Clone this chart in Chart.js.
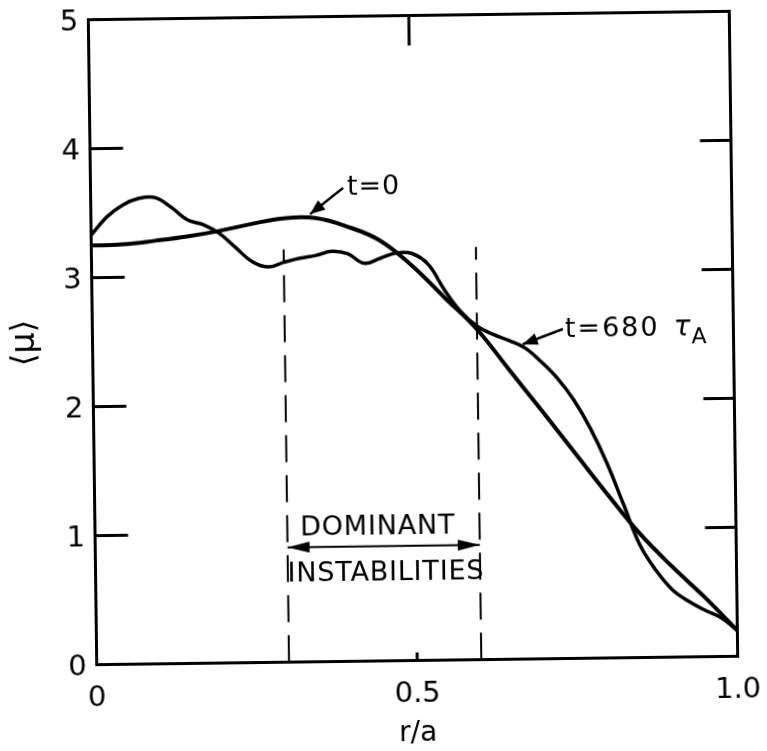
<!DOCTYPE html>
<html>
<head>
<meta charset="utf-8">
<script src="https://cdn.jsdelivr.net/npm/chart.js@4/dist/chart.umd.min.js"></script>
<style>
    html, body { margin: 0; padding: 0; background: #fff; }
    #wrap { width: 767px; height: 751px; overflow: hidden; }
    /* the whole plate sits a little askew on the page */
    #plot { transform: rotate(-0.75deg); transform-origin: 413px 338px; }
</style>
</head>
<body>
<div id="wrap"><canvas id="plot" width="767" height="751"></canvas></div>
<script>
// mean mu profile across the minor radius
const rInit  = [0, 0.05, 0.1, 0.15, 0.2, 0.25, 0.3, 0.35, 0.4, 0.45, 0.5, 0.55, 0.6, 0.65, 0.7,
                0.75, 0.8, 0.85, 0.9, 0.95, 1.0];
const muInit = [3.25, 3.255, 3.28, 3.31, 3.35, 3.40, 3.44, 3.44, 3.37, 3.26, 3.06, 2.81, 2.56, 2.24, 1.92,
                1.595, 1.27, 0.96, 0.70, 0.46, 0.20];

const rLate  = [0, 0.025, 0.05, 0.075, 0.1, 0.125, 0.15, 0.175, 0.2, 0.225, 0.25, 0.275, 0.3, 0.325,
                0.35, 0.375, 0.4, 0.425, 0.45, 0.475, 0.5, 0.525, 0.55, 0.575, 0.6, 0.625, 0.65, 0.675,
                0.7, 0.725, 0.75, 0.775, 0.8, 0.825, 0.85, 0.875, 0.9, 0.925, 0.95, 0.975, 1.0];
const muLate = [3.33, 3.47, 3.56, 3.61, 3.615, 3.54, 3.44, 3.40, 3.33, 3.22, 3.11, 3.065, 3.10, 3.13,
                3.15, 3.18, 3.16, 3.085, 3.12, 3.16, 3.155, 3.07, 2.87, 2.70, 2.585, 2.52, 2.47, 2.41,
                2.30, 2.17, 2.00, 1.78, 1.51, 1.19, 0.87, 0.67, 0.52, 0.43, 0.36, 0.30, 0.20];

// band of the dominant instabilities
const bandR = [0.3, 0.6];
const bandTop = 3.2;
const bandArrowMu = 0.89;

const xTicks = [0, 0.5, 1.0];
const yTicks = [0, 1, 2, 3, 4, 5];
const innerYTicks = [1, 2, 3, 4];

const FONT = "'DejaVu Sans', sans-serif";

const pts = (xs, ys) => xs.map((x, i) => ({ x, y: ys[i] }));

function arrowHead(ctx, x1, y1, x2, y2, len, half) {
    const a = Math.atan2(y2 - y1, x2 - x1);
    ctx.beginPath();
    ctx.moveTo(x2, y2);
    ctx.lineTo(x2 - len * Math.cos(a) + half * Math.sin(a), y2 - len * Math.sin(a) - half * Math.cos(a));
    ctx.lineTo(x2 - len * Math.cos(a) - half * Math.sin(a), y2 - len * Math.sin(a) + half * Math.cos(a));
    ctx.closePath();
    ctx.fill();
}

function arrow(ctx, x1, y1, x2, y2, len, half) {
    ctx.beginPath();
    ctx.moveTo(x1, y1);
    ctx.lineTo(x2, y2);
    ctx.stroke();
    arrowHead(ctx, x1, y1, x2, y2, len, half);
}

// box, inward tick marks and the labels on the plot
const framePlugin = {
    id: "frame",
    afterDraw(chart) {
        const { ctx, chartArea: a, scales: { x, y } } = chart;
        ctx.save();
        ctx.strokeStyle = "#000";
        ctx.fillStyle = "#000";
        ctx.lineWidth = 3;
        ctx.strokeRect(a.left, a.top, a.right - a.left, a.bottom - a.top);

        ctx.beginPath();
        innerYTicks.forEach(v => {
            const py = y.getPixelForValue(v);
            ctx.moveTo(a.left, py); ctx.lineTo(a.left + 33, py);
            ctx.moveTo(a.right, py); ctx.lineTo(a.right - 31, py);
        });
        const mid = x.getPixelForValue(0.5);
        ctx.moveTo(mid, a.top); ctx.lineTo(mid, a.top + 30);
        ctx.moveTo(mid, a.bottom); ctx.lineTo(mid, a.bottom - 8);
        ctx.stroke();

        // double arrow across the band
        ctx.lineWidth = 2;
        const ay = y.getPixelForValue(bandArrowMu);
        const ax1 = x.getPixelForValue(bandR[0]), ax2 = x.getPixelForValue(bandR[1]);
        ctx.beginPath(); ctx.moveTo(ax1, ay); ctx.lineTo(ax2, ay); ctx.stroke();
        arrowHead(ctx, ax2, ay, ax1, ay, 22, 5.5);
        arrowHead(ctx, ax1, ay, ax2, ay, 22, 5.5);

        // pointers to the two curves
        ctx.lineWidth = 2.5;
        arrow(ctx, x.getPixelForValue(0.394), y.getPixelForValue(3.67),
                   x.getPixelForValue(0.342), y.getPixelForValue(3.47), 15, 6);
        arrow(ctx, x.getPixelForValue(0.734), y.getPixelForValue(2.554),
                   x.getPixelForValue(0.671), y.getPixelForValue(2.44), 15, 6);

        ctx.textBaseline = "alphabetic";
        ctx.font = `27px ${FONT}`;
        ctx.letterSpacing = "0.8px";
        ctx.textAlign = "center";
        ctx.fillText("DOMINANT", x.getPixelForValue(0.441), y.getPixelForValue(0.977));
        ctx.fillText("INSTABILITIES", x.getPixelForValue(0.453), y.getPixelForValue(0.627));

        ctx.textAlign = "left";
        ctx.letterSpacing = "1px";
        ctx.fillText("t=0", x.getPixelForValue(0.40), y.getPixelForValue(3.615));
        ctx.letterSpacing = "2px";
        const tx = x.getPixelForValue(0.737), ty = y.getPixelForValue(2.492);
        ctx.fillText("t=680", tx, ty);
        const w = ctx.measureText("t=680").width;
        ctx.letterSpacing = "0px";
        ctx.font = `italic 28px ${FONT}`;
        ctx.fillText("τ", tx + w + 14, ty);
        const tw = ctx.measureText("τ").width;
        ctx.font = `22px ${FONT}`;
        ctx.fillText("A", tx + w + 14 + tw + 1, ty + 8);
        ctx.restore();
    }
};

new Chart(document.getElementById("plot"), {
    type: "line",
    data: {
        datasets: [
            { data: pts(rInit, muInit), borderWidth: 4 },
            { data: pts(rLate, muLate), borderWidth: 3.5 },
            { data: pts([bandR[0], bandR[0]], [0, bandTop]), borderWidth: 2, borderDash: [27, 13], tension: 0 },
            { data: pts([bandR[1], bandR[1]], [0, bandTop]), borderWidth: 2, borderDash: [27, 13], tension: 0 }
        ]
    },
    options: {
        responsive: false,
        animation: false,
        layout: { padding: { top: 15.5, right: 33.5, bottom: 0, left: 0 } },
        elements: {
            line: { borderColor: "#000", tension: 0.4, fill: false },
            point: { radius: 0 }
        },
        plugins: { legend: { display: false }, tooltip: { enabled: false } },
        scales: {
            x: {
                type: "linear",
                min: 0, max: 1,
                grid: { display: false, drawTicks: false },
                border: { display: false },
                afterBuildTicks: s => { s.ticks = xTicks.map(v => ({ value: v })); },
                afterFit: s => { s.height = 90.5; s.paddingLeft = 0; s.paddingRight = 0; },
                ticks: {
                    color: "#000",
                    font: { family: FONT, size: 29 },
                    padding: 17,
                    maxRotation: 0,
                    callback: v => v === 0 ? "0" : v.toFixed(1)
                },
                title: {
                    display: true, text: "r/a", color: "#000",
                    font: { family: FONT, size: 28 },
                    padding: { top: 0, bottom: 0 }
                }
            },
            y: {
                min: 0, max: 5,
                grid: { display: false, drawTicks: false },
                border: { display: false },
                afterBuildTicks: s => { s.ticks = yTicks.map(v => ({ value: v })); },
                afterFit: s => { s.width = 92.5; s.paddingTop = 0; s.paddingBottom = 0; },
                ticks: {
                    color: "#000",
                    font: { family: FONT, size: 29 },
                    padding: 10,
                    labelOffset: 3
                },
                title: {
                    display: true, text: "⟨μ⟩", color: "#000",
                    font: { family: FONT, size: 33 },
                    padding: { top: 6, bottom: 0 }
                }
            }
        }
    },
    plugins: [framePlugin]
});
</script>
</body>
</html>
